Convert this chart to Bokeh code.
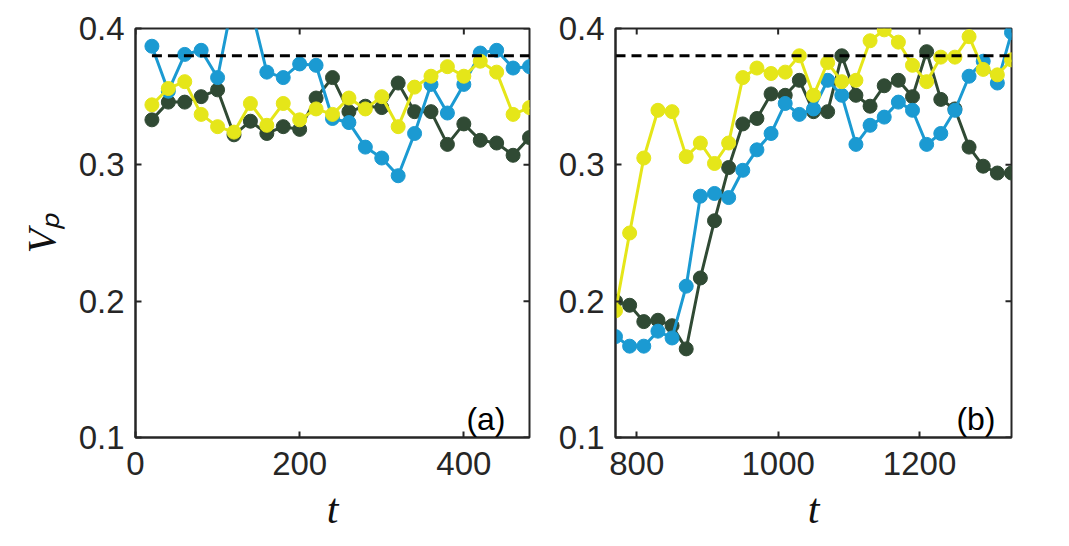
import math
from bokeh.plotting import figure
from bokeh.layouts import row
from bokeh.models import Range1d, FixedTicker, Label
from bokeh.embed import file_html
from bokeh.resources import INLINE

# ---------------- data ----------------
t_a = [20, 40, 60, 80, 100, 120, 140, 160, 180, 200, 220, 240,
       260, 280, 300, 320, 340, 360, 380, 400, 420, 440, 460, 480]
blue_a = [0.387, 0.354, 0.381, 0.384, 0.364, 0.425, 0.417, 0.368, 0.364, 0.374, 0.373, 0.334,
          0.331, 0.313, 0.305, 0.292, 0.323, 0.359, 0.338, 0.359, 0.382, 0.384, 0.371, 0.372]
green_a = [0.333, 0.346, 0.346, 0.350, 0.355, 0.322, 0.332, 0.323, 0.328, 0.326, 0.349, 0.364,
           0.339, 0.343, 0.342, 0.360, 0.339, 0.339, 0.315, 0.330, 0.318, 0.316, 0.307, 0.320]
yellow_a = [0.344, 0.356, 0.361, 0.337, 0.328, 0.324, 0.345, 0.329, 0.345, 0.333, 0.341, 0.337,
            0.349, 0.341, 0.350, 0.328, 0.357, 0.365, 0.372, 0.365, 0.376, 0.368, 0.337, 0.342]

t_b = [770, 790, 810, 830, 850, 870, 890, 910, 930, 950, 970, 990, 1010, 1030, 1050,
       1070, 1090, 1110, 1130, 1150, 1170, 1190, 1210, 1230, 1250, 1270, 1290, 1310, 1330]
blue_b = [0.174, 0.167, 0.167, 0.178, 0.173, 0.211, 0.277, 0.279, 0.276, 0.296, 0.311, 0.323,
          0.345, 0.337, 0.341, 0.362, 0.351, 0.315, 0.329, 0.335, 0.346, 0.340, 0.315, 0.323,
          0.340, 0.365, 0.376, 0.360, 0.397]
green_b = [0.200, 0.197, 0.185, 0.186, 0.182, 0.165, 0.217, 0.259, 0.298, 0.330, 0.334, 0.352,
           0.351, 0.362, 0.339, 0.339, 0.380, 0.351, 0.343, 0.358, 0.362, 0.350, 0.383, 0.348,
           0.341, 0.313, 0.299, 0.294, 0.294]
yellow_b = [0.193, 0.250, 0.305, 0.340, 0.339, 0.306, 0.316, 0.301, 0.316, 0.364, 0.371, 0.367,
            0.368, 0.380, 0.351, 0.375, 0.361, 0.362, 0.391, 0.399, 0.390, 0.373, 0.361, 0.379,
            0.379, 0.394, 0.370, 0.366, 0.377]

threshold = 0.38
y_ticks = [0.1, 0.2, 0.3, 0.4]
x_ticks_a = [0, 200, 400]
x_ticks_b = [800, 1000, 1200]
x_lim_a = (0, 480)
x_lim_b = (770, 1330)
y_lim = (0.1, 0.4)

# ---------------- style ----------------
C_BLUE = "#1b9ad2"
C_GREEN = "#304a34"
C_YELLOW = "#e5e619"
AX = "#262626"
TICK_FONT = "Liberation Sans"
TICK_SIZE = "33px"


def style_axis(ax, ticks):
    ax.ticker = FixedTicker(ticks=ticks)
    ax.axis_line_color = AX
    ax.axis_line_width = 2
    ax.major_tick_line_color = AX
    ax.major_tick_line_width = 2
    ax.major_tick_in = 6
    ax.major_tick_out = 0
    ax.minor_tick_line_color = None
    ax.major_label_text_font = TICK_FONT
    ax.major_label_text_font_size = TICK_SIZE
    ax.major_label_text_color = AX


def make_panel(t, blue, green, yellow, xlim, xticks, tag, width, left, right, tag_dx, ylabel):
    p = figure(width=width, height=538, x_range=Range1d(*xlim), y_range=Range1d(*y_lim),
               output_backend="svg", toolbar_location=None,
               min_border_left=left, min_border_right=right,
               min_border_top=28, min_border_bottom=101)
    p.background_fill_color = "white"
    p.border_fill_color = "white"
    p.outline_line_color = AX
    p.outline_line_width = 2
    p.xgrid.visible = False
    p.ygrid.visible = False

    style_axis(p.xaxis[0], xticks)
    p.xaxis[0].major_label_standoff = 14
    p.xaxis[0].axis_label = "t"
    p.xaxis[0].axis_label_text_font = "Liberation Serif"
    p.xaxis[0].axis_label_text_font_style = "italic"
    p.xaxis[0].axis_label_text_font_size = "42px"
    p.xaxis[0].axis_label_text_color = "#111111"
    p.xaxis[0].axis_label_standoff = 8

    style_axis(p.yaxis[0], y_ticks)
    p.yaxis[0].major_label_standoff = 11
    if ylabel:
        p.yaxis[0].axis_label = ylabel
        p.yaxis[0].axis_label_text_font = "Liberation Serif"
        p.yaxis[0].axis_label_text_font_style = "italic"
        p.yaxis[0].axis_label_text_font_size = "40px"
        p.yaxis[0].axis_label_text_color = "#111111"
        p.yaxis[0].axis_label_standoff = 12

    # inward ticks on the top and right edges of the box
    p.scatter(xticks, [y_lim[1]] * len(xticks), marker="dash", angle=math.pi / 2,
              size=12, line_color=AX, line_width=2)
    p.scatter([xlim[1]] * len(y_ticks), y_ticks, marker="dash",
              size=12, line_color=AX, line_width=2)

    for vals, col in ((green, C_GREEN), (blue, C_BLUE), (yellow, C_YELLOW)):
        p.line(t, vals, line_color=col, line_width=3)
        p.scatter(t, vals, size=14, fill_color=col, line_color=col)

    p.line([t[0], t[-1]], [threshold, threshold], line_color="black",
           line_width=3, line_dash="10 6")

    p.add_layout(Label(x=xlim[1], y=y_lim[0], x_offset=tag_dx, y_offset=19, text=tag,
                       text_align="right", text_baseline="alphabetic",
                       text_font=TICK_FONT, text_font_size="32px", text_color="black"))
    return p


pa = make_panel(t_a, blue_a, green_a, yellow_a, x_lim_a, x_ticks_a, "(a)",
                width=545, left=135, right=16, tag_dx=-24, ylabel="Vₚ")
pb = make_panel(t_b, blue_b, green_b, yellow_b, x_lim_b, x_ticks_b, "(b)",
                width=496, left=70, right=30, tag_dx=-16, ylabel=None)

layout = row(pa, pb)
open("out.html", "w").write(file_html(layout, INLINE))
